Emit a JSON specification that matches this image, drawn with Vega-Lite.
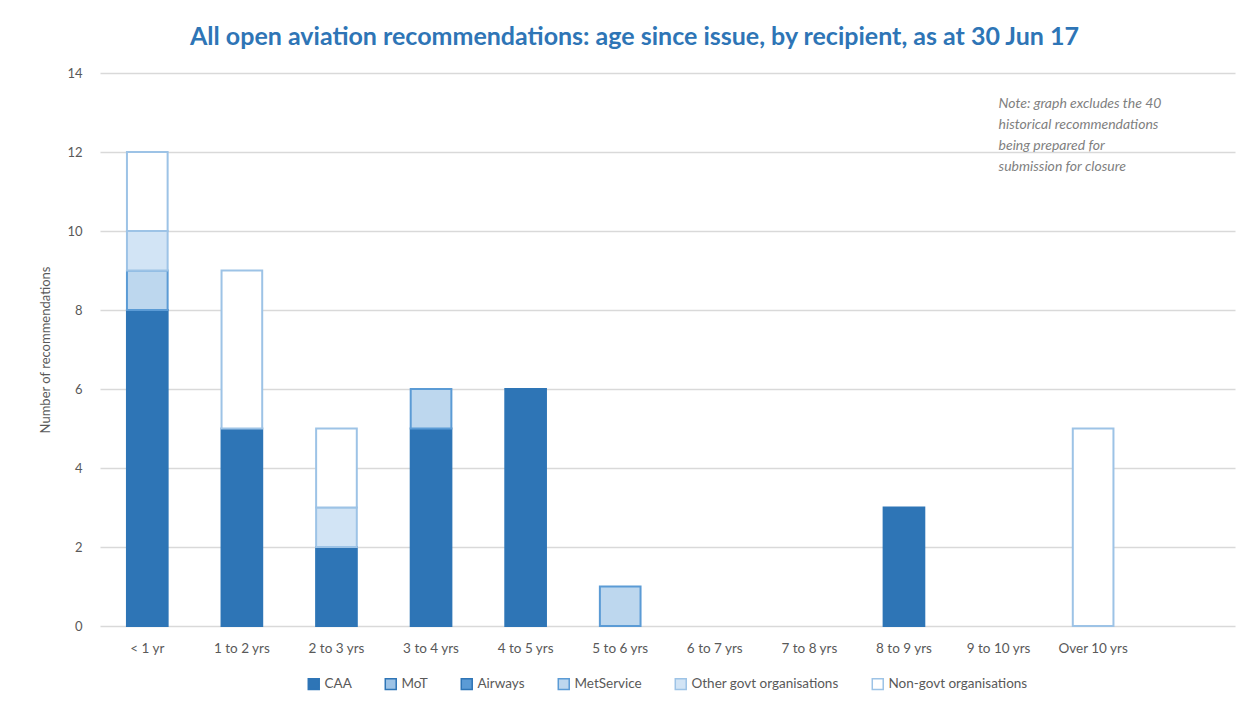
{
  "$schema": "https://vega.github.io/schema/vega-lite/v6.json",
  "width": 1135,
  "height": 553,
  "autosize": {"type": "none"},
  "padding": {"left": 100, "top": 73, "right": 19, "bottom": 82},
  "background": "white",
  "title": {
    "text": "All open aviation recommendations: age since issue, by recipient, as at 30 Jun 17",
    "font": "Lato",
    "fontSize": 25,
    "fontWeight": "bold",
    "color": "#2E75B6",
    "anchor": "middle",
    "frame": "group",
    "dx": -33,
    "offset": 17
  },
  "config": {
    "font": "Lato",
    "view": {"stroke": null},
    "axis": {"labelColor": "#595959", "titleColor": "#595959", "labelFont": "Lato", "titleFont": "Lato"},
    "legend": {"layout": {"bottom": {"anchor": "middle"}}}
  },
  "data": {
    "values": [
      {"age": "< 1 yr", "recipient": "CAA", "count": 8},
      {"age": "< 1 yr", "recipient": "MetService", "count": 1},
      {"age": "< 1 yr", "recipient": "Other govt organisations", "count": 1},
      {"age": "< 1 yr", "recipient": "Non-govt organisations", "count": 2},
      {"age": "1 to 2 yrs", "recipient": "CAA", "count": 5},
      {"age": "1 to 2 yrs", "recipient": "Non-govt organisations", "count": 4},
      {"age": "2 to 3 yrs", "recipient": "CAA", "count": 2},
      {"age": "2 to 3 yrs", "recipient": "Other govt organisations", "count": 1},
      {"age": "2 to 3 yrs", "recipient": "Non-govt organisations", "count": 2},
      {"age": "3 to 4 yrs", "recipient": "CAA", "count": 5},
      {"age": "3 to 4 yrs", "recipient": "MetService", "count": 1},
      {"age": "4 to 5 yrs", "recipient": "CAA", "count": 6},
      {"age": "5 to 6 yrs", "recipient": "MetService", "count": 1},
      {"age": "8 to 9 yrs", "recipient": "CAA", "count": 3},
      {"age": "Over 10 yrs", "recipient": "Non-govt organisations", "count": 5}
    ]
  },
  "encoding": {
    "x": {
      "field": "age",
      "type": "nominal",
      "scale": {
        "domain": ["< 1 yr", "1 to 2 yrs", "2 to 3 yrs", "3 to 4 yrs", "4 to 5 yrs", "5 to 6 yrs", "6 to 7 yrs", "7 to 8 yrs", "8 to 9 yrs", "9 to 10 yrs", "Over 10 yrs", " "],
        "paddingInner": 0.57,
        "paddingOuter": 0.285
      },
      "axis": {
        "title": null,
        "labelAngle": 0,
        "labelFontSize": 13.5,
        "labelPadding": 15,
        "domain": false,
        "ticks": false,
        "grid": false
      }
    }
  },
  "layer": [
    {
      "transform": [
        {"calculate": "indexof(['CAA','MoT','Airways','MetService','Other govt organisations','Non-govt organisations'], datum.recipient)", "as": "stackRank"}
      ],
      "mark": {"type": "bar", "strokeWidth": 2},
      "encoding": {
        "y": {
          "field": "count",
          "type": "quantitative",
          "stack": "zero",
          "scale": {"domain": [0, 14], "nice": false},
          "axis": {
            "title": "Number of recommendations",
            "titleFontSize": 13,
            "titleFontWeight": "normal",
            "titlePadding": 14,
            "values": [0, 2, 4, 6, 8, 10, 12, 14],
            "labelFontSize": 13,
            "labelPadding": 18,
            "domain": false,
            "ticks": false,
            "grid": true,
            "gridColor": "#D9D9D9",
            "gridWidth": 1.3
          }
        },
        "order": {"field": "stackRank", "type": "quantitative"},
        "fill": {
          "field": "recipient",
          "type": "nominal",
          "scale": {
            "domain": ["CAA", "MoT", "Airways", "MetService", "Other govt organisations", "Non-govt organisations"],
            "range": ["#2E75B6", "#9DC3E6", "#5B9BD5", "#BDD7EE", "#D2E4F5", "#FFFFFF"]
          },
          "legend": {
            "title": null,
            "orient": "bottom",
            "direction": "horizontal",
            "offset": 22,
            "symbolType": "square",
            "symbolSize": 120,
            "symbolStrokeWidth": 1.5,
            "labelFontSize": 13.5,
            "labelColor": "#595959",
            "columnPadding": 30,
            "labelLimit": 300
          }
        },
        "stroke": {
          "field": "recipient",
          "type": "nominal",
          "scale": {
            "domain": ["CAA", "MoT", "Airways", "MetService", "Other govt organisations", "Non-govt organisations"],
            "range": ["#2E75B6", "#2E75B6", "#2E75B6", "#5B9BD5", "#9DC3E6", "#9DC3E6"]
          },
          "legend": {
            "title": null,
            "orient": "bottom",
            "direction": "horizontal",
            "offset": 22,
            "symbolType": "square",
            "symbolSize": 120,
            "symbolStrokeWidth": 1.5,
            "labelFontSize": 13.5,
            "labelColor": "#595959",
            "columnPadding": 30,
            "labelLimit": 300
          }
        }
      }
    },
    {
      "data": {
        "values": [
          {"note": ["Note: graph excludes the 40", "historical recommendations", "being prepared for", "submission for closure"]}
        ]
      },
      "mark": {
        "type": "text",
        "align": "left",
        "baseline": "top",
        "font": "Lato",
        "fontStyle": "italic",
        "fontSize": 14,
        "lineHeight": 21,
        "color": "#7F7F7F"
      },
      "encoding": {
        "x": {"datum": "9 to 10 yrs"},
        "y": {"datum": 13.4},
        "text": {"field": "note"}
      }
    }
  ]
}
